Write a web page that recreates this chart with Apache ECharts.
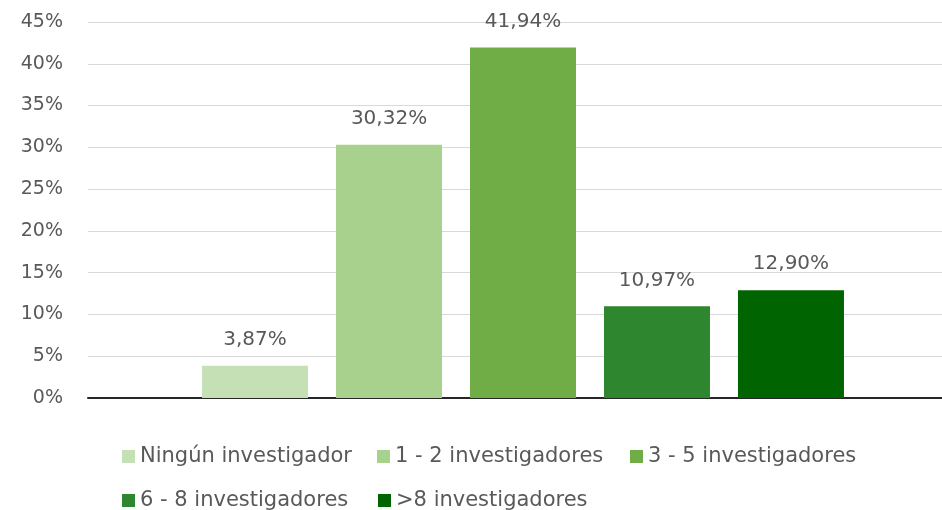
<!DOCTYPE html>
<html><head><meta charset="utf-8">
<script src="https://cdn.jsdelivr.net/npm/echarts@6/dist/echarts.min.js"></script>
<style>html,body{margin:0;padding:0;background:#fff}#c{width:942px;height:510px}</style>
</head><body><div id="c"></div>
<script>
const seriesNames = ['Ningún investigador','1 - 2 investigadores','3 - 5 investigadores','6 - 8 investigadores','>8 investigadores'];
const seriesValues = [3.87, 30.32, 41.94, 10.97, 12.90];
const seriesColors = ['#c5e0b4','#a9d18e','#70ad47','#2e862e','#006400'];
const yTicks = [0,5,10,15,20,25,30,35,40,45];
const FONT = 'DejaVu Sans';
const TXT = '#595959';
const fmt = v => v.toFixed(2).replace('.', ',') + '%';
const legendPos = [[122,446],[377,446],[630,446],[122,490],[378,490]];
const chart = echarts.init(document.getElementById('c'));
chart.setOption({
  animation:false,
  textStyle:{fontFamily:FONT},
  grid:{left:88,right:-16,top:22,bottom:112,containLabel:false,outerBoundsMode:'none'},
  xAxis:{type:'category',data:[''],axisLine:{lineStyle:{color:'#262626',width:2}},axisTick:{show:false},axisLabel:{show:false}},
  yAxis:{type:'value',min:yTicks[0],max:yTicks[yTicks.length-1],interval:5,
    axisLine:{show:false},axisTick:{show:false},
    splitLine:{lineStyle:{color:'#d9d9d9',width:1}},
    axisLabel:{formatter:v=>v+'%',color:TXT,fontSize:19,fontFamily:FONT,margin:25}},
  legend: seriesNames.map((n,i)=>({
    data:[n],left:legendPos[i][0],top:legendPos[i][1],padding:0,itemWidth:13,itemHeight:13,icon:'rect',
    textStyle:{color:TXT,fontSize:21,fontFamily:FONT}
  })),
  series: seriesNames.map((n,i)=>({
    name:n,type:'bar',barWidth:106,barGap:'26.4%',
    data:[seriesValues[i]],
    itemStyle:{color:seriesColors[i]},
    label:{show:true,position:'top',distance:16,formatter:p=>fmt(p.value),color:TXT,fontSize:20,fontFamily:FONT}
  }))
});
</script></body></html>
